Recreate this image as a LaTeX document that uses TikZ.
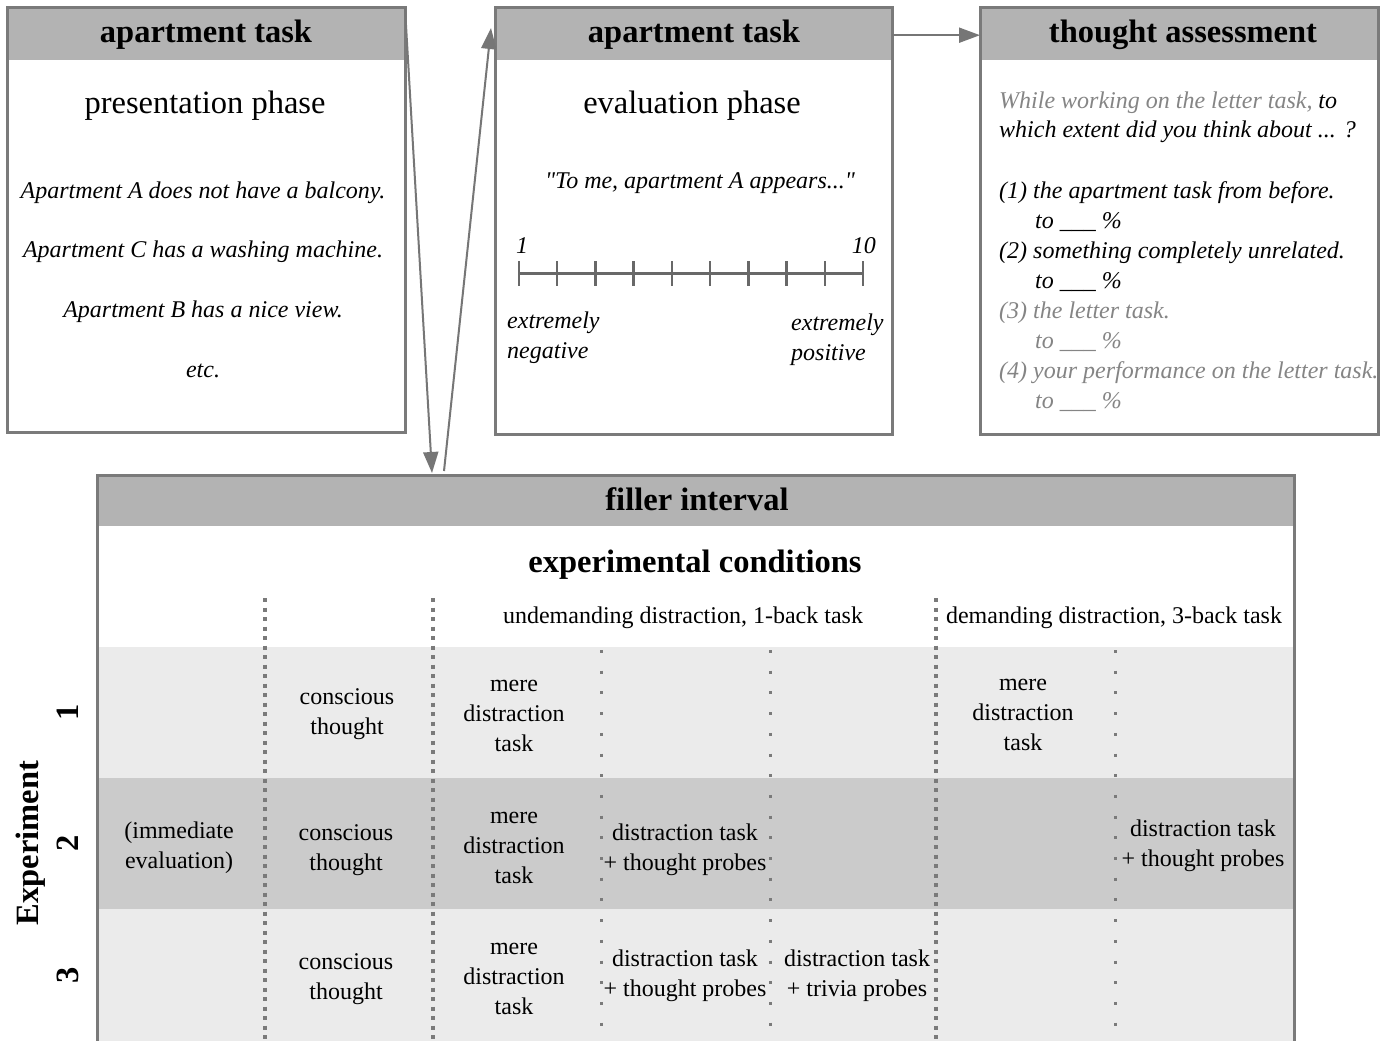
\documentclass[tikz,border=0pt]{standalone}
\usepackage{fontspec}
\setmainfont{Liberation Serif}
\newfontfamily\plainqfont{Liberation Serif}[Ligatures=TeXOff]
\usetikzlibrary{arrows.meta}
\definecolor{frame}{HTML}{7A7A7A}
\definecolor{hdr}{HTML}{B3B3B3}
\definecolor{rowlight}{HTML}{EBEBEB}
\definecolor{rowdark}{HTML}{CBCBCB}
\definecolor{greytxt}{HTML}{858585}
\definecolor{arrowc}{HTML}{767676}
\newcommand{\stk}[2][c]{\begin{tabular}[t]{@{}#1@{}}#2\end{tabular}}
\newcommand{\bigsz}{\fontsize{32.5}{38}\selectfont}
\newcommand{\midsz}{\fontsize{24}{30}\selectfont}
\tikzset{
  frameline/.style={draw=frame, line width=3pt},
  boxnode/.style={frameline, anchor=north west, inner sep=0pt, outer sep=0pt},
  hdrtxt/.style={font=\bigsz\bfseries, anchor=base, inner sep=0pt},
  bigtxt/.style={font=\bigsz, anchor=base, inner sep=0pt},
  txt/.style={font=\midsz, anchor=base, inner sep=0pt},
  itxt/.style={font=\midsz\itshape, anchor=base, inner sep=0pt},
  conn/.style={draw=arrowc, line width=2pt, -{Triangle[length=21pt,width=15pt]}},
  majordots/.style={draw=frame, line width=4pt, dash pattern=on 4pt off 5.5pt},
  minordots/.style={draw=frame, line width=3pt, dash pattern=on 3pt off 17.7pt},
  scaleline/.style={draw=frame!85!black, line width=3pt},
}
\begin{document}
\begin{tikzpicture}[x=1pt, y=-1pt]
\useasboundingbox[fill=white] (0,0) rectangle (1389,1041);

% header bands and row fills
\fill[hdr] (7,8) rectangle (405,60);
\fill[hdr] (495,8) rectangle (892,60);
\fill[hdr] (980,8) rectangle (1378,60);
\fill[hdr] (97,475) rectangle (1294,526);
\fill[rowlight] (97,647) rectangle (1294,778);
\fill[rowdark] (97,778) rectangle (1294,909);
\fill[rowlight] (97,909) rectangle (1294,1045);

% boxes
\node[boxnode, minimum width=398pt, minimum height=424pt] (b1) at (7,8) {};
\node[boxnode, minimum width=397pt, minimum height=426pt] (b2) at (495,8) {};
\node[boxnode, minimum width=398pt, minimum height=426pt] (b3) at (980,8) {};
\node[anchor=north west, inner sep=0pt, outer sep=0pt, minimum width=1197pt, minimum height=570pt] (fil) at (97,475) {};

% dotted separators
\foreach \xx in {265,433,936} \draw[majordots] (\xx,598) -- (\xx,1041);
\foreach \xx in {601,770,1115} \draw[minordots] (\xx,650) -- (\xx,1041);

\draw[frameline] (fil.south west) -- (fil.north west) -- (fil.north east) -- (fil.south east);

% box 1
\node[hdrtxt] (h1) at (206,43) {apartment task};
\node[bigtxt] (p1) at (205,113) {presentation phase};
\node[itxt] (s1) at (203,198) {Apartment A does not have a balcony.};
\node[itxt] (s2) at (203,257) {Apartment C has a washing machine.};
\node[itxt] (s3) at (203,317) {Apartment B has a nice view.};
\node[itxt] (s4) at (203,377) {etc.};

% box 2
\node[hdrtxt] (h2) at (694,43) {apartment task};
\node[bigtxt] (p2) at (692,113) {evaluation phase};
\node[itxt] (q) at (700,188) {\plainqfont\itshape "To me, apartment A appears..."};
\draw[scaleline] (519,273) -- (863,273);
\foreach \i in {0,...,9} \draw[scaleline, line width=2.5pt] (519+38.22*\i,261) -- (519+38.22*\i,286);
\node[itxt, anchor=base west] (one) at (516,253) {1};
\node[itxt, anchor=base east] (ten) at (876,253) {10};
\node[itxt, anchor=base west] (neg) at (507,328) {\stk[l]{extremely\\negative}};
\node[itxt, anchor=base west] (pos) at (791,330) {\stk[l]{extremely\\positive}};

% box 3
\node[hdrtxt] (h3) at (1183,43) {thought assessment};
\node[itxt, anchor=base west] (t1) at (999,108) {\textcolor{greytxt}{While working on the letter task,} to};
\node[itxt, anchor=base west] (t2) at (999,137) {which extent did you think about ... ?};
\node[itxt, anchor=base west] (t3) at (999,198) {(1) the apartment task from before.};
\node[itxt, anchor=base west] (t4) at (1035,228) {to \_\_\_ \%};
\node[itxt, anchor=base west] (t5) at (999,258) {(2) something completely unrelated.};
\node[itxt, anchor=base west] (t6) at (1035,288) {to \_\_\_ \%};
\node[itxt, anchor=base west, text=greytxt] (t7) at (999,318) {(3) the letter task.};
\node[itxt, anchor=base west, text=greytxt] (t8) at (1035,348) {to \_\_\_ \%};
\node[itxt, anchor=base west, text=greytxt] (t9) at (999,378) {(4) your performance on the letter task.};
\node[itxt, anchor=base west, text=greytxt] (t10) at (1035,408) {to \_\_\_ \%};

% filler interval
\node[hdrtxt] (hf) at (697,510) {filler interval};
\node[hdrtxt] (ec) at (695,572) {experimental conditions};
\node[txt] (und) at (683,623) {undemanding distraction, 1-back task};
\node[txt] (dem) at (1114,623) {demanding distraction, 3-back task};

\node[txt] (r1c2) at (347,704) {\stk{conscious\\thought}};
\node[txt] (r1c3) at (514,691) {\stk{mere\\distraction\\task}};
\node[txt] (r1c6) at (1023,690) {\stk{mere\\distraction\\task}};

\node[txt] (r2c1) at (179,838) {\stk{(immediate\\evaluation)}};
\node[txt] (r2c2) at (346,840) {\stk{conscious\\thought}};
\node[txt] (r2c3) at (514,823) {\stk{mere\\distraction\\task}};
\node[txt] (r2c4) at (685,840) {\stk{distraction task\\+ thought probes}};
\node[txt] (r2c7) at (1203,836) {\stk{distraction task\\+ thought probes}};

\node[txt] (r3c2) at (346,969) {\stk{conscious\\thought}};
\node[txt] (r3c3) at (514,954) {\stk{mere\\distraction\\task}};
\node[txt] (r3c4) at (685,966) {\stk{distraction task\\+ thought probes}};
\node[txt] (r3c5) at (857,966) {\stk{distraction task\\+ trivia probes}};

% experiment labels
\node[hdrtxt, rotate=90] (e1) at (78,712) {1};
\node[hdrtxt, rotate=90] (e2) at (78,843) {2};
\node[hdrtxt, rotate=90] (e3) at (78,975) {3};
\node[hdrtxt, rotate=90] (exp) at (38,843) {Experiment};

% connectors
\coordinate (a1e) at (432,473);
\coordinate (a2s) at (444,471);
\coordinate (a2e) at (491,28);
\draw[conn] (b1.north east) -- (a1e);
\draw[conn] (a2s) -- (a2e);
\draw[conn] (h2.east -| b2.east) -- (h2.east -| b3.west);
\end{tikzpicture}
\end{document}
